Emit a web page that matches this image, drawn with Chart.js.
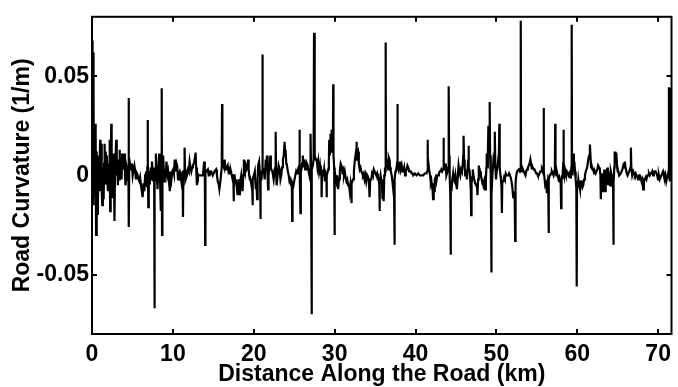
<!DOCTYPE html>
<html>
<head>
<meta charset="utf-8">
<script src="https://cdn.jsdelivr.net/npm/chart.js@4"></script>
<style>
html,body{margin:0;padding:0;background:#fff;}
canvas{display:block;}
</style>
</head>
<body>
<canvas id="c" width="678" height="387"></canvas>
<script>
// ---- data ----
// distance along the road (km)
const distance = [
0.00,0.05,0.09,0.13,0.17,0.21,0.26,0.33,0.40,0.45,0.50,0.56,0.61,0.66,0.72,0.78,0.85,0.92,1.00,1.06,1.12,1.20,1.27,1.34,1.44,1.50,1.56,1.63,1.70,1.78,1.85,1.91,1.97,2.05,2.12,2.17,2.21,2.25,2.31,2.38,2.43,2.50,2.58,2.66,2.72,2.78,2.85,2.92,2.99,3.06,3.13,3.20,3.28,3.34,3.40,3.46,3.52,3.60,3.66,3.72,3.81,3.90,4.01,4.08,4.14,4.22,4.30,4.40,4.50,4.53,4.56,4.60,4.70,4.83,4.93,5.03,5.14,5.24,5.34,5.44,5.55,5.65,5.75,5.85,5.95,6.06,6.16,6.26,6.36,6.47,6.57,6.67,6.78,6.84,6.87,6.92,6.96,7.02,7.10,7.16,7.25,7.33,7.41,7.50,7.57,7.68,7.72,7.76,7.82,7.90,8.00,8.10,8.20,8.31,8.40,8.51,8.58,8.62,8.66,8.71,8.80,8.92,
9.00,9.10,9.21,9.31,9.41,9.52,9.62,9.70,9.82,9.92,10.03,10.13,10.23,10.35,10.45,10.52,10.64,10.75,10.85,10.95,11.05,11.20,11.25,11.30,11.38,11.43,11.46,11.50,11.58,11.74,11.87,11.97,12.07,12.18,12.28,12.38,12.48,12.59,12.69,12.81,12.88,12.97,13.03,13.09,13.30,13.50,13.71,13.87,13.95,13.99,14.03,14.12,14.32,14.43,14.53,14.63,14.73,14.93,15.14,15.34,15.45,15.55,15.65,15.75,15.90,16.04,16.08,16.12,16.24,16.32,16.41,16.49,16.57,16.68,16.78,16.88,16.98,17.08,17.18,17.29,17.39,17.47,17.51,17.55,17.63,17.72,17.80,17.90,18.00,
18.13,18.21,18.29,18.37,18.45,18.53,18.62,18.70,18.78,18.84,18.90,19.00,19.11,19.21,19.31,19.37,19.43,19.52,19.60,19.72,19.80,19.84,19.90,20.01,20.13,20.25,20.33,20.42,20.48,20.54,20.66,20.78,20.82,20.87,20.95,21.03,21.07,21.11,21.23,21.36,21.48,21.56,21.64,21.70,21.77,21.83,21.89,21.97,22.05,22.11,22.17,22.30,22.46,22.58,22.67,22.71,22.75,22.83,22.95,23.07,23.20,23.30,23.40,23.50,23.61,23.71,23.81,23.87,23.93,24.02,24.10,24.22,24.32,24.42,24.53,24.63,24.71,24.75,24.80,24.91,25.04,25.14,25.24,25.35,25.45,25.55,25.62,25.65,25.70,25.77,25.82,25.90,25.98,26.06,26.16,26.26,26.36,26.47,26.57,26.67,26.78,26.88,26.96,27.02,27.08,27.14,27.20,27.30,27.40,27.45,27.50,27.57,27.67,
27.78,27.88,27.98,28.08,28.19,28.30,28.36,28.39,28.44,28.60,28.70,28.80,28.90,28.97,29.00,29.05,29.21,29.28,29.33,29.40,29.50,29.56,29.62,29.70,29.79,29.82,29.86,29.94,29.98,30.03,30.10,30.23,30.33,30.44,30.54,30.64,30.75,30.85,30.95,31.05,31.15,31.25,31.35,31.46,31.56,31.66,31.76,31.87,31.97,32.03,32.07,32.12,32.28,32.38,32.48,32.58,32.65,32.69,32.75,32.89,32.99,33.10,33.20,33.30,33.40,33.50,33.60,33.71,33.81,33.91,34.02,34.12,34.22,34.32,34.40,34.53,34.63,34.73,34.84,34.94,35.04,35.14,35.24,35.34,35.45,35.51,35.55,35.60,35.68,35.75,35.85,35.92,35.98,36.06,36.14,36.22,36.28,36.31,36.35,36.42,
36.53,36.62,36.70,36.78,36.86,36.94,37.06,37.17,37.27,37.34,37.39,37.44,37.52,37.59,37.72,37.76,37.80,37.92,38.00,38.08,38.18,38.29,38.39,38.49,38.60,38.70,38.80,38.90,39.00,39.11,39.21,39.31,39.42,39.52,39.62,39.72,39.92,40.13,40.33,40.54,40.75,40.95,41.15,41.36,41.44,41.48,41.54,41.60,41.68,41.80,41.90,41.97,42.06,42.12,42.17,42.25,42.32,42.38,42.48,42.58,42.68,42.79,42.89,42.99,43.10,43.20,43.30,43.40,43.45,43.48,43.52,43.65,43.74,43.81,43.95,44.05,44.10,44.15,44.22,44.30,44.34,44.38,44.45,44.55,44.65,44.73,44.83,44.93,45.02,45.12,
45.22,45.32,45.42,45.53,45.63,45.73,45.85,45.90,45.94,46.00,46.08,46.14,46.24,46.35,46.45,46.52,46.55,46.60,46.70,46.76,46.84,46.88,46.93,47.00,47.08,47.17,47.25,47.37,47.49,47.58,47.66,47.74,47.82,47.90,47.98,48.08,48.19,48.29,48.39,48.49,48.60,48.70,48.76,48.80,48.86,48.94,49.01,49.07,49.13,49.17,49.22,49.30,49.34,49.37,49.41,49.50,49.62,49.72,49.78,49.82,49.87,49.95,50.03,50.13,50.23,50.30,50.36,50.41,50.50,50.56,50.63,50.68,50.73,50.85,50.95,51.05,51.15,51.26,51.36,51.46,51.56,51.66,51.76,51.87,51.97,52.07,52.17,52.26,52.32,52.37,52.46,52.56,52.66,52.77,52.90,52.97,53.01,53.05,53.18,53.28,53.38,53.48,53.59,53.69,53.79,53.89,54.00,54.10,54.20,54.28,54.36,
54.40,54.50,54.61,54.71,54.81,54.92,55.02,55.12,55.22,55.33,55.43,55.53,55.63,55.72,55.80,55.84,55.88,55.96,56.04,56.14,56.25,56.35,56.41,56.45,56.50,56.57,56.65,56.76,56.86,56.96,57.06,57.16,57.23,57.27,57.31,57.40,57.47,57.57,57.68,57.78,57.88,57.95,58.00,58.05,58.12,58.17,58.24,58.29,58.34,58.42,58.49,58.60,58.70,58.80,58.90,59.00,59.11,59.21,59.27,59.31,59.35,59.42,59.52,59.58,59.64,59.72,59.80,59.88,59.93,59.97,60.05,60.13,60.23,60.33,60.44,60.54,60.64,60.74,60.85,60.95,61.05,61.15,61.26,61.36,61.46,61.56,61.64,61.70,61.77,61.87,61.97,62.08,62.18,62.28,62.38,62.48,62.58,62.69,62.79,62.86,62.91,62.96,63.04,63.12,63.20,63.28,
63.33,63.40,63.48,63.52,63.58,63.64,63.72,63.78,63.85,63.95,64.05,64.15,64.26,64.36,64.42,64.46,64.51,64.58,64.62,64.70,64.78,64.82,64.87,64.93,65.00,65.08,65.18,65.28,65.38,65.48,65.58,65.69,65.79,65.89,65.95,66.02,66.12,66.22,66.32,66.42,66.51,66.58,66.63,66.68,66.79,66.92,67.02,67.12,67.22,67.32,67.42,67.53,67.63,67.73,67.84,67.94,68.04,68.14,68.24,68.35,68.45,68.55,68.66,68.76,68.86,68.96,69.06,69.16,69.27,69.37,69.47,69.57,69.68,69.78,69.88,69.98,70.09,70.19,70.29,70.39,70.50,70.60,70.70,70.80,70.90,71.00,71.10,71.21,71.28,71.33,71.38,71.44,71.50,71.56,71.62
];
// road curvature (1/m)
const curvature = [
0.005,0.068,-0.012,0.062,-0.015,0.040,-0.010,0.015,-0.008,0.026,-0.030,0.012,-0.006,0.010,-0.020,0.005,0.007,-0.008,0.018,0.002,0.016,-0.008,-0.015,0.004,-0.012,0.006,0.016,-0.004,0.012,-0.002,0.010,-0.004,-0.008,0.006,-0.004,0.018,0.000,-0.018,0.004,0.026,0.000,-0.011,0.004,0.011,-0.004,-0.023,0.004,0.010,0.018,0.000,0.008,-0.005,0.004,-0.002,0.013,0.006,0.002,0.008,-0.002,0.011,0.003,0.006,0.011,0.000,-0.005,-0.002,0.004,0.002,0.004,0.039,-0.026,0.004,0.006,0.003,0.006,0.000,0.003,0.005,0.002,-0.002,0.001,0.000,-0.002,-0.003,-0.001,-0.005,-0.008,-0.011,-0.004,-0.008,0.000,0.002,-0.006,0.004,0.028,0.010,-0.016,0.002,-0.004,-0.002,0.004,-0.002,0.007,0.002,-0.003,0.003,-0.067,0.004,-0.002,0.011,0.000,-0.007,0.002,0.011,0.000,-0.018,0.004,0.044,-0.030,0.002,0.010,-0.003,
0.003,-0.001,0.007,0.000,0.002,-0.003,-0.008,0.002,-0.002,0.002,0.003,0.001,0.008,0.002,0.006,0.005,-0.002,0.001,0.002,0.000,-0.003,0.002,-0.021,0.002,0.002,0.004,0.014,0.003,-0.002,0.000,0.003,0.002,0.007,0.004,0.002,0.004,0.005,0.006,0.008,0.0115,0.004,-0.005,0.001,0.000,0.000,0.000,0.000,0.007,0.002,-0.035,0.002,0.002,0.003,0.000,0.000,0.002,0.002,0.000,0.002,0.003,0.000,-0.003,-0.004,-0.007,-0.002,0.004,0.036,0.008,0.005,0.004,0.008,0.003,0.003,0.004,0.005,0.002,0.003,0.001,0.002,0.000,-0.002,0.000,-0.013,0.000,0.000,-0.004,-0.002,-0.006,-0.010,
-0.002,-0.005,-0.010,-0.002,0.000,-0.004,-0.008,0.000,0.008,0.003,0.002,0.005,0.003,0.004,0.008,0.003,0.000,-0.002,-0.002,-0.005,-0.003,-0.015,-0.002,0.000,0.002,-0.007,-0.004,-0.012,-0.002,0.005,0.007,0.000,-0.022,-0.002,-0.002,0.002,0.061,0.003,0.003,-0.002,0.008,0.004,0.010,0.002,-0.007,0.000,0.003,0.006,0.010,0.004,0.003,0.002,-0.002,0.003,0.004,0.022,0.002,-0.005,0.000,0.005,0.003,-0.002,0.000,0.004,0.008,0.010,0.017,0.011,0.013,0.006,0.005,0.002,0.000,-0.003,-0.002,-0.005,-0.004,-0.023,-0.004,-0.005,-0.002,0.000,0.002,0.001,0.003,0.004,0.005,0.023,0.003,-0.019,0.002,0.003,0.006,0.010,0.004,0.008,0.003,0.003,0.006,0.005,0.002,0.000,0.003,0.021,0.004,-0.070,0.003,0.005,0.008,0.072,0.010,0.010,0.008,
0.008,0.004,0.007,0.002,0.005,0.000,0.003,-0.011,0.000,0.000,0.003,-0.003,0.000,0.002,-0.011,0.000,0.003,0.006,0.018,0.010,0.021,0.012,0.023,0.014,0.020,0.046,0.010,0.004,-0.030,0.002,0.000,-0.003,0.000,-0.007,-0.002,0.002,0.006,0.005,0.002,0.003,0.000,0.002,-0.001,-0.003,-0.002,-0.005,-0.004,-0.008,-0.004,-0.006,-0.014,-0.004,-0.002,0.002,0.007,0.010,0.008,0.017,0.010,0.012,0.006,0.003,0.004,0.002,0.001,0.000,0.001,-0.002,0.000,-0.003,0.000,-0.001,-0.002,-0.011,-0.002,-0.002,0.001,0.000,0.003,0.002,0.001,0.000,0.001,-0.002,-0.002,-0.004,-0.018,-0.003,0.000,-0.002,-0.004,-0.012,-0.002,-0.013,0.000,0.004,0.002,0.067,0.004,0.008,
0.007,0.003,0.009,0.008,0.004,0.002,0.000,-0.004,-0.008,-0.006,-0.035,-0.002,0.002,0.002,0.006,0.036,0.005,0.003,0.006,0.007,0.003,0.005,0.002,0.002,0.004,0.000,0.002,0.003,0.005,0.004,0.002,0.002,0.002,0.001,0.001,0.000,0.001,0.000,0.001,0.000,0.000,0.000,0.001,0.001,0.002,0.018,0.004,0.006,0.003,0.000,-0.004,-0.003,-0.006,-0.008,-0.012,-0.004,-0.008,-0.002,-0.001,-0.003,0.000,0.000,0.001,0.002,0.002,0.003,0.002,0.003,0.005,0.019,0.004,0.003,0.006,0.000,0.002,0.004,0.045,0.010,0.000,-0.010,-0.040,-0.005,-0.008,-0.002,0.001,-0.002,-0.003,0.000,-0.004,-0.007,
-0.001,0.005,0.002,0.000,0.003,0.002,0.006,0.010,0.020,0.008,0.004,0.000,0.003,-0.002,0.004,0.008,0.015,0.004,0.002,-0.002,-0.008,-0.020,-0.004,-0.001,0.003,0.000,-0.002,-0.004,-0.005,-0.004,-0.010,-0.002,0.005,0.001,0.002,0.000,-0.002,-0.003,-0.005,-0.003,-0.007,-0.002,0.004,0.011,0.004,0.010,0.025,0.012,0.015,0.037,0.010,0.000,-0.020,-0.049,-0.010,0.000,0.007,0.004,0.008,0.022,0.005,-0.002,0.002,0.004,0.008,0.006,0.026,0.004,0.000,-0.002,-0.006,-0.019,-0.003,-0.003,-0.001,-0.002,0.001,0.000,0.000,0.000,0.001,0.000,-0.001,-0.003,-0.006,-0.011,-0.008,-0.012,-0.033,-0.004,0.000,0.002,0.002,0.003,0.002,0.003,0.078,0.003,0.002,0.003,0.002,0.001,0.000,0.002,0.003,0.004,0.005,0.006,0.008,0.006,0.003,
0.005,0.004,0.003,0.003,0.002,0.001,0.001,0.000,0.000,0.001,0.002,0.002,0.003,0.002,0.004,0.034,0.002,-0.002,-0.005,-0.004,-0.009,-0.004,-0.006,-0.029,-0.002,0.000,0.000,0.001,0.002,0.001,0.000,0.002,0.004,0.026,0.003,0.000,0.002,0.000,-0.002,-0.001,-0.003,-0.004,-0.0165,-0.003,0.000,-0.002,0.004,0.023,0.003,0.000,0.003,0.001,0.002,0.001,0.000,0.001,-0.001,0.000,0.004,0.076,0.005,0.000,0.011,0.004,0.007,0.002,-0.002,-0.006,-0.056,-0.004,-0.006,-0.002,-0.005,-0.007,-0.003,-0.003,-0.006,-0.005,-0.002,0.000,0.002,0.003,0.005,0.008,0.010,0.0156,0.009,0.004,0.005,0.003,0.003,0.001,0.002,0.001,0.002,0.003,0.005,0.004,0.003,0.000,-0.012,-0.004,0.001,-0.002,-0.008,-0.005,
0.003,-0.005,-0.008,0.003,-0.004,-0.002,0.004,-0.005,0.002,-0.003,-0.005,0.002,0.000,-0.004,-0.002,-0.035,-0.004,0.004,0.0115,0.0115,0.006,0.0115,0.0115,0.004,0.002,0.002,0.000,0.000,0.001,0.002,0.003,0.005,0.004,0.007,0.004,0.003,0.001,0.000,0.001,0.002,0.002,0.004,0.014,0.004,0.000,0.002,0.001,0.000,0.001,0.000,-0.001,-0.002,0.000,0.000,-0.001,-0.003,-0.002,-0.007,-0.002,-0.002,-0.001,-0.002,0.000,0.000,0.001,0.000,0.001,0.001,0.002,0.000,0.001,0.002,0.002,0.001,0.000,-0.002,0.000,-0.002,-0.001,0.000,0.001,0.002,0.000,-0.002,0.000,-0.003,-0.001,0.000,0.002,0.0445,0.002,-0.003,0.044,0.010,0.044
];
const xTicks = [0,10,20,30,40,50,60,70];
const yTicks = [-0.05,0,0.05];
const yTickLabels = ['-0.05','0','0.05'];
const xTitle = 'Distance Along the Road (km)';
const yTitle = 'Road Curvature (1/m)';
const xMax = 71.65, yMin = -0.08, yMax = 0.08;

const n = Math.min(distance.length, curvature.length);
const points = [];
for (let i=0;i<n;i++) points.push({x:distance[i], y:curvature[i]});
const FONT = 'Liberation Sans, Arial, Helvetica, sans-serif';

const frame = {
  id:'frame',
  afterDraw(chart){
    const {ctx, chartArea:a, scales:{x,y}} = chart;
    ctx.save();
    ctx.strokeStyle='#000';
    ctx.lineWidth=2;
    ctx.strokeRect(a.left, a.top, a.right-a.left, a.bottom-a.top);
    const L=5;
    ctx.beginPath();
    xTicks.forEach(v=>{
      const px=Math.round(x.getPixelForValue(v));
      ctx.moveTo(px,a.bottom); ctx.lineTo(px,a.bottom-L);
      ctx.moveTo(px,a.top); ctx.lineTo(px,a.top+L);
    });
    yTicks.forEach(v=>{
      const py=Math.round(y.getPixelForValue(v));
      ctx.moveTo(a.left,py); ctx.lineTo(a.left+L,py);
      ctx.moveTo(a.right,py); ctx.lineTo(a.right-L,py);
    });
    ctx.stroke();
    ctx.restore();
  }
};

new Chart(document.getElementById('c'),{
  type:'line',
  data:{datasets:[{data:points,borderColor:'#000',borderWidth:2.2,pointRadius:0,tension:0,fill:false,borderJoinStyle:'miter'}]},
  options:{
    responsive:false,animation:false,devicePixelRatio:1,
    layout:{padding:{top:12,right:2,left:0,bottom:0}},
    plugins:{legend:{display:false},tooltip:{enabled:false}},
    scales:{
      x:{type:'linear',min:0,max:xMax,
        grid:{display:false,drawTicks:false},border:{display:false},
        afterBuildTicks:s=>{s.ticks=xTicks.map(v=>({value:v}));},
        afterFit:s=>{s.height=53;},
        ticks:{color:'#000',padding:7,maxRotation:0,font:{family:FONT,size:23,weight:'bold'},callback:v=>String(v)},
        title:{display:true,text:xTitle,color:'#000',padding:{top:0,bottom:1},font:{family:FONT,size:23,weight:'bold',lineHeight:1}}
      },
      y:{type:'linear',min:yMin,max:yMax,
        grid:{display:false,drawTicks:false},border:{display:false},
        afterBuildTicks:s=>{s.ticks=yTicks.map(v=>({value:v}));},
        afterFit:s=>{s.width=92;},
        ticks:{color:'#000',padding:3,font:{family:FONT,size:23,weight:'bold'},callback:(v,i)=>yTickLabels[i]},
        title:{display:true,text:yTitle,color:'#000',padding:{top:11,bottom:0},font:{family:FONT,size:23,weight:'bold',lineHeight:1}}
      }
    }
  },
  plugins:[frame]
});
</script>
</body>
</html>
